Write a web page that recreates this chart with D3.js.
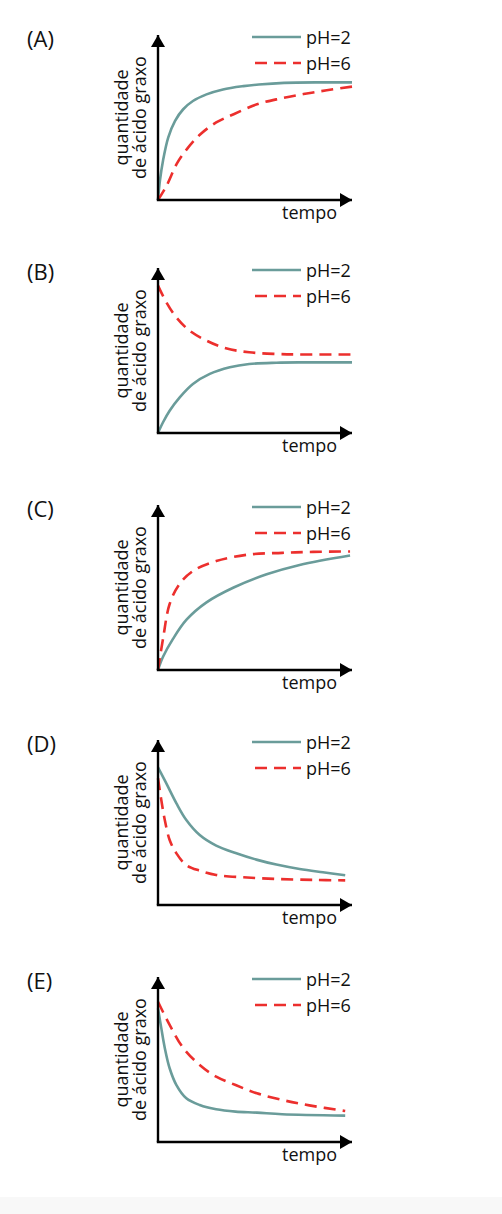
<!DOCTYPE html>
<html>
<head>
<meta charset="utf-8">
<script src="https://cdn.jsdelivr.net/npm/d3@7"></script>
<style>
  body { margin: 0; background: #fff; }
  svg text { font-family: "Open Sans", "Liberation Sans", sans-serif; fill: #111; }
</style>
</head>
<body>
<div id="graph"></div>
<script>
// panel letters and the two series (time 0..10, amount 0..100 of the axis height)
const panels = ["(A)", "(B)", "(C)", "(D)", "(E)"];
const seriesNames = ["pH=2", "pH=6"];

const tA2 = [0, 0.1, 0.26, 0.53, 0.88, 1.3, 1.8, 2.5, 3.35, 4.4, 5.2, 6.5, 8.5, 10];
const vA2 = [0, 11.8, 24, 38, 48, 55, 60, 64, 67, 69, 70, 71, 71.3, 71.3];
const tA6 = [0, 0.45, 0.97, 1.5, 2.2, 3.0, 3.9, 5.1, 6.3, 7.5, 8.7, 10];
const vA6 = [0, 8.8, 22, 31, 40, 47, 52, 58, 61.5, 64.2, 66.5, 68.7];

const tB2 = [0, 0.26, 0.6, 1.12, 1.8, 2.67, 3.7, 4.7, 6.1, 7.5, 10];
const vB2 = [0, 6.5, 13.5, 21.6, 29.7, 35.8, 39.8, 41.8, 42.6, 42.8, 42.8];
const tB6 = [0, 0.43, 0.95, 1.63, 2.5, 3.5, 4.7, 6.1, 7.5, 10];
const vB6 = [89.3, 79.2, 70, 62, 56, 51.3, 48.9, 47.9, 47.6, 47.6];

const tC2 = [0, 0.26, 0.78, 1.47, 2.5, 3.9, 5.6, 7.3, 9.9];
const vC2 = [0, 8, 19, 30.5, 41, 50, 58, 63.7, 69.4];
const tC6 = [0, 0.26, 0.6, 1.1, 1.8, 3.0, 4.7, 6.4, 8, 9.9];
const vC6 = [0, 19, 40, 52, 60, 66, 70, 71, 71.6, 71.8];

const tD2 = [0, 0.43, 0.95, 1.46, 2.15, 3.0, 4.0, 5.07, 6.1, 7.3, 8.5, 9.65];
const vD2 = [83.5, 73.7, 61.6, 51.5, 42.4, 36, 31.5, 27.5, 24.5, 21.8, 19.8, 18];
const tD6 = [0, 0.17, 0.35, 0.6, 0.95, 1.46, 2.15, 3.0, 4.4, 6.1, 8, 9.65];
const vD6 = [76.8, 63.6, 51.5, 39.4, 31.3, 24.2, 20.8, 18.2, 16.8, 15.8, 15.2, 14.9];

const tE2 = [0, 0.17, 0.35, 0.6, 0.95, 1.46, 2.15, 3.0, 4.0, 5.1, 6.4, 9.65];
const vE2 = [81, 69, 57, 44.7, 34.5, 26.5, 22.4, 19.8, 18.4, 17.8, 16.8, 16];
const tE6 = [0, 0.6, 1.3, 2.15, 3.0, 4.0, 5.1, 6.4, 7.8, 9.65];
const vE6 = [85, 71, 57, 46.7, 39.6, 34.5, 29.5, 25.5, 22.2, 18.8];

const ph2 = [[tA2, vA2], [tB2, vB2], [tC2, vC2], [tD2, vD2], [tE2, vE2]];
const ph6 = [[tA6, vA6], [tB6, vB6], [tC6, vC6], [tD6, vD6], [tE6, vE6]];

// y of each panel's origin
const origins = [200, 433, 670, 905, 1142];

const W = 502, H = 1214;
const teal = "#6a9c9a", red = "#ec2f2d";
const plotH = 165;

const svg = d3.select("#graph").append("svg")
  .attr("width", W).attr("height", H);

svg.append("rect").attr("x", 0).attr("y", 1197).attr("width", W).attr("height", H - 1197)
  .attr("fill", "#f8f8f8");

const defs = svg.append("defs");
defs.append("marker")
  .attr("id", "arrow")
  .attr("viewBox", "0 0 12 14")
  .attr("refX", 12).attr("refY", 7)
  .attr("markerWidth", 12).attr("markerHeight", 14)
  .attr("markerUnits", "userSpaceOnUse")
  .attr("orient", "auto")
  .append("path").attr("d", "M0,0L12,7L0,14Z").attr("fill", "#000");

const x = d3.scaleLinear().domain([0, 10]).range([158, 352]);

panels.forEach((lab, i) => {
  const oy = origins[i];
  const y = d3.scaleLinear().domain([0, 100]).range([oy, oy - plotH]);
  const g = svg.append("g");

  const line = d3.line()
    .x(d => x(d[0]))
    .y(d => y(d[1]))
    .curve(d3.curveCatmullRom.alpha(0.5));

  const pts = s => s[0].map((t, k) => [t, s[1][k]]);

  // curves
  g.append("path").attr("d", line(pts(ph2[i])))
    .attr("fill", "none").attr("stroke", teal).attr("stroke-width", 2.6);
  g.append("path").attr("d", line(pts(ph6[i])))
    .attr("fill", "none").attr("stroke", red).attr("stroke-width", 2.6)
    .attr("stroke-dasharray", "12,7");

  // axes with arrows
  g.append("line").attr("x1", x(0)).attr("y1", oy).attr("x2", x(0)).attr("y2", y(100))
    .attr("stroke", "#000").attr("stroke-width", 2.4).attr("marker-end", "url(#arrow)");
  g.append("line").attr("x1", x(0) - 1.2).attr("y1", oy).attr("x2", x(10)).attr("y2", oy)
    .attr("stroke", "#000").attr("stroke-width", 2.4).attr("marker-end", "url(#arrow)");

  // panel letter
  g.append("text").attr("x", 27).attr("y", y(100) + 12)
    .attr("font-size", 22).text(lab);

  // axis titles
  g.append("text").attr("x", 337).attr("y", oy + 19)
    .attr("text-anchor", "end").attr("font-size", 18).text("tempo");

  const my = (oy + y(100)) / 2;
  g.append("text").attr("transform", `translate(128,${my}) rotate(-90)`)
    .attr("text-anchor", "middle").attr("font-size", 18).text("quantidade");
  g.append("text").attr("transform", `translate(146,${my}) rotate(-90)`)
    .attr("text-anchor", "middle").attr("font-size", 18).text("de ácido graxo");

  // legend
  const ly = y(100) + 2;
  seriesNames.forEach((n, k) => {
    const yy = ly + k * 26;
    g.append("line").attr("x1", k ? 255 : 252).attr("x2", 301).attr("y1", yy).attr("y2", yy)
      .attr("stroke", k ? red : teal).attr("stroke-width", 2.6)
      .attr("stroke-dasharray", k ? "12,7" : null);
    g.append("text").attr("x", 306).attr("y", yy + 6.5)
      .attr("font-size", 18).text(n);
  });
});
</script>
</body>
</html>
